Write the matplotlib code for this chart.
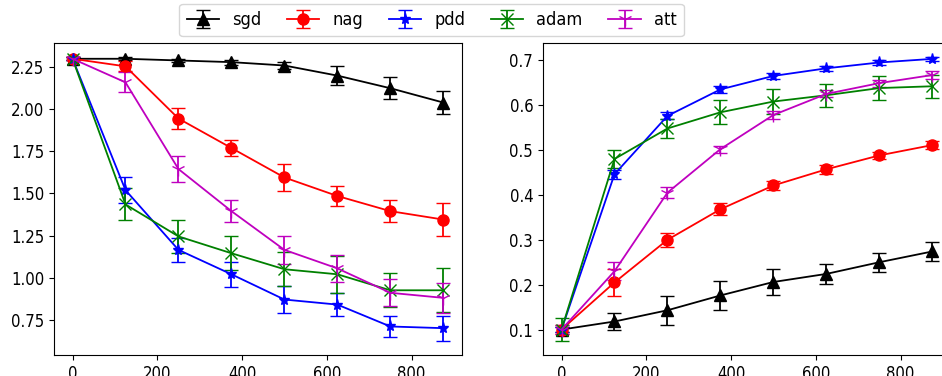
import matplotlib
matplotlib.use("Agg")
import matplotlib.pyplot as plt
from matplotlib.font_manager import FontProperties

steps = [0, 125, 250, 375, 500, 625, 750, 875]
methods = ["sgd", "nag", "pdd", "adam", "att"]

loss_sgd = [2.30, 2.30, 2.29, 2.28, 2.26, 2.20, 2.125, 2.04]
loss_sgd_err = [0.01, 0.01, 0.01, 0.015, 0.02, 0.055, 0.065, 0.07]
loss_nag = [2.30, 2.255, 1.945, 1.77, 1.595, 1.485, 1.395, 1.345]
loss_nag_err = [0.01, 0.03, 0.065, 0.05, 0.08, 0.06, 0.065, 0.10]
loss_pdd = [2.30, 1.52, 1.165, 1.02, 0.87, 0.84, 0.71, 0.70]
loss_pdd_err = [0.01, 0.075, 0.07, 0.075, 0.08, 0.07, 0.065, 0.075]
loss_adam = [2.30, 1.435, 1.245, 1.145, 1.05, 1.02, 0.925, 0.925]
loss_adam_err = [0.01, 0.095, 0.10, 0.10, 0.10, 0.11, 0.10, 0.13]
loss_att = [2.30, 2.16, 1.645, 1.395, 1.165, 1.055, 0.91, 0.88]
loss_att_err = [0.01, 0.06, 0.075, 0.065, 0.085, 0.08, 0.08, 0.09]

acc_sgd = [0.10, 0.118, 0.143, 0.176, 0.206, 0.224, 0.25, 0.274]
acc_sgd_err = [0.005, 0.02, 0.032, 0.033, 0.028, 0.023, 0.021, 0.022]
acc_nag = [0.10, 0.205, 0.30, 0.368, 0.421, 0.457, 0.488, 0.511]
acc_nag_err = [0.01, 0.03, 0.016, 0.013, 0.01, 0.01, 0.008, 0.008]
acc_pdd = [0.10, 0.446, 0.576, 0.635, 0.665, 0.682, 0.695, 0.703]
acc_pdd_err = [0.005, 0.01, 0.008, 0.008, 0.007, 0.006, 0.005, 0.004]
acc_adam = [0.10, 0.48, 0.548, 0.584, 0.608, 0.622, 0.638, 0.642]
acc_adam_err = [0.025, 0.02, 0.022, 0.027, 0.027, 0.026, 0.027, 0.026]
acc_att = [0.10, 0.23, 0.405, 0.502, 0.578, 0.625, 0.649, 0.667]
acc_att_err = [0.01, 0.02, 0.012, 0.008, 0.008, 0.008, 0.008, 0.008]

loss = [(loss_sgd, loss_sgd_err), (loss_nag, loss_nag_err), (loss_pdd, loss_pdd_err),
        (loss_adam, loss_adam_err), (loss_att, loss_att_err)]
acc = [(acc_sgd, acc_sgd_err), (acc_nag, acc_nag_err), (acc_pdd, acc_pdd_err),
       (acc_adam, acc_adam_err), (acc_att, acc_att_err)]

colors = ["k", "r", "b", "g", "m"]
markers = ["^", "o", "*", "x", "1"]
msizes = [8, 8, 8, 9, 10]

plt.rcParams["font.family"] = ["DejaVu Sans"]
plt.rcParams["font.stretch"] = "condensed"

fig = plt.figure(figsize=(9.42, 3.76), dpi=100)
ax1 = fig.add_axes([0.0573, 0.0559, 0.433, 0.830])
ax2 = fig.add_axes([0.5764, 0.0559, 0.433, 0.830])

handles = []
for ax, data in ((ax1, loss), (ax2, acc)):
    hs = []
    for i, (vals, errs) in enumerate(data):
        h = ax.errorbar(steps, vals, yerr=errs, color=colors[i], marker=markers[i],
                        markersize=msizes[i], capsize=5, linewidth=1.3,
                        elinewidth=1.3, label=methods[i])
        hs.append(h)
    handles = hs
    ax.tick_params(labelsize=12)

ax1.set_yticks([0.75, 1.00, 1.25, 1.50, 1.75, 2.00, 2.25])
ax2.set_yticks([0.1, 0.2, 0.3, 0.4, 0.5, 0.6, 0.7])
for ax in (ax1, ax2):
    ax.set_xticks([0, 200, 400, 600, 800])

fig.legend(handles, methods, loc="center", ncol=5,
           prop=FontProperties(family="DejaVu Sans", stretch="condensed", size=13),
           bbox_to_anchor=(431.5 / 942, 1 - 20 / 376), handlelength=1.78,
           handletextpad=0.72, columnspacing=1.44)

fig.savefig("out.png", dpi=100)
